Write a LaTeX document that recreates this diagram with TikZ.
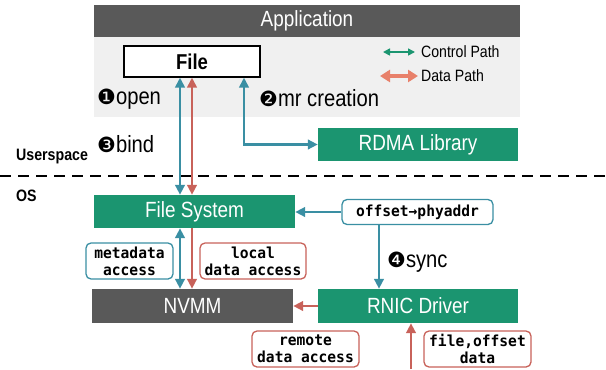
\documentclass[tikz,border=0pt]{standalone}
\usepackage{fontspec}
\setmainfont{Liberation Sans}[FakeStretch=0.86]
\newfontfamily\monof{DejaVu Sans Mono}[FakeStretch=0.96]
\newfontfamily\circf{DejaVu Sans}
\usetikzlibrary{arrows.meta}
\definecolor{dgray}{HTML}{595959}
\definecolor{lgray}{HTML}{F0F0F0}
\definecolor{grn}{HTML}{1B9570}
\definecolor{tealc}{HTML}{3A8FA3}
\definecolor{redc}{HTML}{C8625A}
\definecolor{salmon}{HTML}{E8806A}
\newcommand{\cnum}[1]{{\circf\fontsize{21}{21}\selectfont #1}}
\begin{document}
\begin{tikzpicture}[x=1pt,y=-1pt,
  >={Triangle[length=10pt,width=9.5pt]},
  bigfont/.style={font=\fontsize{22}{24}\selectfont},
  gbox/.style={fill=grn, text=white, inner sep=0pt, bigfont},
  dbox/.style={fill=dgray, text=white, inner sep=0pt, bigfont},
  lbl/.style={draw=#1, rounded corners=5pt, fill=white, line width=1.3pt,
    font=\monof\bfseries\fontsize{15.2}{17}\selectfont, align=center, inner sep=0pt},
  tarr/.style={draw=tealc, line width=2.5pt},
  rarr/.style={draw=redc, line width=2.5pt},
  stepl/.style={font=\fontsize{23.5}{26}\selectfont, anchor=west, inner sep=0pt},
  legtext/.style={font=\fontsize{16.4}{18}\selectfont, anchor=west, inner sep=0pt}
]
\useasboundingbox (0,0) rectangle (606,370);
% application area
\fill[lgray] (94,37) rectangle (520,117);
\node[dbox, minimum width=426pt, minimum height=32pt] (app) at (307,21) {Application};
\node[draw=black, fill=white, line width=1.2pt, minimum width=136pt, minimum height=31pt,
  inner sep=0pt, font=\bfseries\fontsize{21.5}{24}\selectfont] (file) at (192,61.5) {File};
% legend
\coordinate (lg1a) at (383,52); \coordinate (lg1b) at (415,52);
\draw[draw=grn, line width=1.6pt, {Triangle[length=7pt,width=7pt]}-{Triangle[length=7pt,width=7pt]}] (lg1a) -- (lg1b);
\node[legtext] (lgc) at (421,52) {Control Path};
\coordinate (lg2a) at (380,76); \coordinate (lg2b) at (418,76);
\draw[draw=salmon, line width=3.2pt, {Triangle[length=10pt,width=12pt]}-{Triangle[length=10pt,width=12pt]}] (lg2a) -- (lg2b);
\node[legtext] (lgd) at (421,76) {Data Path};
% steps
\node[stepl] (s1) at (97,99) {\cnum{❶}open};
\node[stepl] (s2) at (259,98) {\cnum{❷}mr creation};
\node[stepl] (s3) at (97,144) {\cnum{❸}bind};
\node[stepl] (s4) at (387,262) {\cnum{❹}sync};
% userspace / os
\node[anchor=west, inner sep=0pt, font=\bfseries\fontsize{16.5}{18}\selectfont] (us) at (16,157) {Userspace};
\node[anchor=west, inner sep=0pt, font=\bfseries\fontsize{16.5}{18}\selectfont] (os) at (16,196) {OS};
\coordinate (dl) at (0,176); \coordinate (dr) at (606,176);
\draw[line width=1.3pt, dash pattern=on 11pt off 7pt] (dl) -- (dr);
% boxes
\node[gbox, minimum width=200pt, minimum height=33pt] (rdma) at (418,144.5) {RDMA Library};
\node[gbox, minimum width=201pt, minimum height=33pt] (fs) at (194.5,211.5) {File System};
\node[dbox, minimum width=201pt, minimum height=34pt] (nvmm) at (192.5,306) {NVMM};
\node[gbox, minimum width=200pt, minimum height=34pt] (rnic) at (418,306) {RNIC Driver};
\node[lbl=tealc, minimum width=151pt, minimum height=25pt] (off) at (417.5,212) {offset→phyaddr};
\node[lbl=tealc, minimum width=87pt, minimum height=36pt] (meta) at (129.5,261) {metadata\\access};
\node[lbl=redc, minimum width=106pt, minimum height=36pt] (local) at (253,261) {local\\data access};
\node[lbl=redc, minimum width=107pt, minimum height=36pt] (remote) at (305.5,349) {remote\\data access};
\node[lbl=redc, minimum width=107pt, minimum height=36pt] (fod) at (477.5,349) {file,offset\\data};
% connectors
\draw[tarr, <->] (180,0 |- file.south) -- (180,0 |- fs.north);
\draw[rarr, <->] (192,0 |- file.south) -- (192,0 |- fs.north);
\draw[tarr, <->] (244,0 |- file.south) |- (rdma.west);
\draw[tarr, ->] (off.west) -- (fs.east |- off.west);
\draw[tarr, ->] (379,0 |- off.south) -- (379,0 |- rnic.north);
\draw[tarr, <->] (180,0 |- fs.south) -- (180,0 |- nvmm.north);
\draw[rarr, ->] (192,0 |- fs.south) -- (192,0 |- nvmm.north);
\draw[rarr, ->] (rnic.west) -- (nvmm.east);
\coordinate (in) at (411,369);
\draw[rarr, ->] (in) -- (in |- rnic.south);
\end{tikzpicture}
\end{document}
